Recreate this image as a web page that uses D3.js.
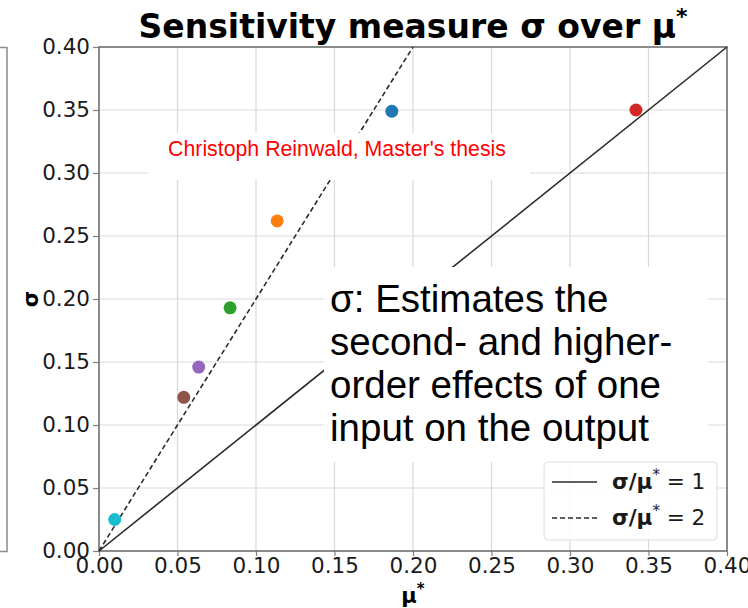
<!DOCTYPE html>
<html>
<head>
<meta charset="utf-8">
<script src="https://cdn.jsdelivr.net/npm/d3@7"></script>
<style>
  html, body { margin: 0; padding: 0; background: #fff; }
  svg { display: block; }
</style>
</head>
<body>
<svg id="chart" width="748" height="608"></svg>
<script>
// Morris screening results: mean of absolute elementary effects (mu*) vs. their spread (sigma)
const muStar = [0.010, 0.054, 0.0635, 0.0835, 0.1135, 0.1865, 0.342];
const sigma  = [0.025, 0.122, 0.146, 0.193, 0.262, 0.349, 0.350];
const pointColors = ["#17becf", "#8c564b", "#9467bd", "#2ca02c", "#ff7f0e", "#1f77b4", "#d62728"];

// Reference ratio lines sigma/mu* = k
const ratios = [1, 2];
const ratioDash = [null, "5,3"];

const xTicks = [0, 0.05, 0.10, 0.15, 0.20, 0.25, 0.30, 0.35, 0.40];
const yTicks = [0, 0.05, 0.10, 0.15, 0.20, 0.25, 0.30, 0.35, 0.40];

const noteLines = ["σ: Estimates the", "second- and higher-", "order effects of one", "input on the output"];
const creditText = "Christoph Reinwald, Master's thesis";

const svg = d3.select("#chart");
const W = 748, H = 608;
const m = { left: 99, right: W - 727, top: 47, bottom: H - 551 };

const x = d3.scaleLinear().domain([0, 0.40]).range([m.left, W - m.right]);
const y = d3.scaleLinear().domain([0, 0.40]).range([H - m.bottom, m.top]);

const tickFont = "'DejaVu Sans', sans-serif";

// Edge of the neighbouring panel on the left
svg.append("rect")
  .attr("x", -10).attr("y", 47.5).attr("width", 17).attr("height", 504)
  .attr("fill", "none").attr("stroke", "#8a8a8a").attr("stroke-width", 1.5);

// Grid
const grid = svg.append("g");
grid.selectAll(".gx").data(xTicks.slice(1, -1)).join("line")
  .attr("x1", d => x(d)).attr("x2", d => x(d))
  .attr("y1", y(0)).attr("y2", y(0.40))
  .attr("stroke", "#d9d9d9").attr("stroke-width", 1.2);
grid.selectAll(".gy").data(yTicks.slice(1, -1)).join("line")
  .attr("y1", d => y(d)).attr("y2", d => y(d))
  .attr("x1", x(0)).attr("x2", x(0.40))
  .attr("stroke", "#d9d9d9").attr("stroke-width", 1.2);

// Axes
const xAxis = d3.axisBottom(x).tickValues(xTicks).tickFormat(d3.format(".2f")).tickSize(5).tickPadding(2);
const yAxis = d3.axisLeft(y).tickValues(yTicks).tickFormat(d3.format(".2f")).tickSize(6).tickPadding(3);

const gx = svg.append("g").attr("transform", `translate(0,${y(0)})`).call(xAxis);
const gy = svg.append("g").attr("transform", `translate(${x(0)},0)`).call(yAxis);
[gx, gy].forEach(g => {
  g.select(".domain").remove();
  g.selectAll(".tick line").attr("stroke", "#808080").attr("stroke-width", 1.2);
  g.selectAll(".tick text").attr("font-family", tickFont).attr("font-size", 21.5).attr("fill", "#1a1a1a");
});

// Plot frame
svg.append("rect")
  .attr("x", x(0)).attr("y", y(0.40))
  .attr("width", x(0.40) - x(0)).attr("height", y(0) - y(0.40))
  .attr("fill", "none").attr("stroke", "#6e6e6e").attr("stroke-width", 1.6);

// Ratio lines
const plot = svg.append("g");
ratios.forEach((k, i) => {
  const xEnd = Math.min(0.40, 0.40 / k);
  plot.append("line")
    .attr("x1", x(0)).attr("y1", y(0))
    .attr("x2", x(xEnd)).attr("y2", y(xEnd * k))
    .attr("stroke", "#2b2b2b").attr("stroke-width", 1.6)
    .attr("stroke-dasharray", ratioDash[i]);
});

// Points
plot.selectAll("circle").data(muStar).join("circle")
  .attr("cx", d => x(d)).attr("cy", (d, i) => y(sigma[i]))
  .attr("r", 6.5)
  .attr("fill", (d, i) => pointColors[i]);

// Title
const title = svg.append("text")
  .attr("x", (x(0) + x(0.40)) / 2).attr("y", 38)
  .attr("text-anchor", "middle")
  .attr("font-family", tickFont).attr("font-weight", "bold").attr("font-size", 33)
  .attr("fill", "#000");
title.append("tspan").text("Sensitivity measure σ over μ");
title.append("tspan").attr("dy", -14).attr("font-size", 22).text("*");

// Axis labels
svg.append("text")
  .attr("transform", `translate(38,${(y(0) + y(0.40)) / 2}) rotate(-90)`)
  .attr("text-anchor", "middle")
  .attr("font-family", tickFont).attr("font-weight", "bold").attr("font-size", 21)
  .text("σ");
const xl = svg.append("text")
  .attr("x", (x(0) + x(0.40)) / 2).attr("y", 603)
  .attr("text-anchor", "middle")
  .attr("font-family", tickFont).attr("font-weight", "bold").attr("font-size", 21);
xl.append("tspan").text("μ");
xl.append("tspan").attr("dy", -9).attr("font-size", 15).text("*");

// Note box
svg.append("rect")
  .attr("x", 324).attr("y", 267).attr("width", 384).attr("height", 195)
  .attr("fill", "#fff");
svg.append("text")
  .attr("font-family", "'Liberation Sans', Arial, sans-serif").attr("font-size", 38.5)
  .attr("fill", "#000")
  .selectAll("tspan").data(noteLines).join("tspan")
  .attr("x", 330).attr("y", (d, i) => 312 + i * 43)
  .text(d => d);

// Legend
const lg = svg.append("g");
lg.append("rect")
  .attr("x", 544).attr("y", 462).attr("width", 173).attr("height", 78)
  .attr("rx", 4).attr("fill", "rgba(255,255,255,0.85)")
  .attr("stroke", "#dcdcdc").attr("stroke-width", 1);
ratios.forEach((k, i) => {
  const ly = 482 + i * 36;
  lg.append("line")
    .attr("x1", 552).attr("x2", 597).attr("y1", ly).attr("y2", ly)
    .attr("stroke", "#2b2b2b").attr("stroke-width", 1.6)
    .attr("stroke-dasharray", ratioDash[i]);
  const t = lg.append("text").attr("x", 612).attr("y", ly + 7)
    .attr("font-family", tickFont).attr("font-size", 21.5).attr("fill", "#1a1a1a");
  t.append("tspan").attr("font-weight", "bold").text("σ/μ");
  t.append("tspan").attr("dy", -9).attr("font-size", 15).text("*");
  t.append("tspan").attr("dy", 9).text(" = " + k);
});

// Credit banner
svg.append("rect")
  .attr("x", 148).attr("y", 133).attr("width", 382).attr("height", 47)
  .attr("fill", "#fff");
svg.append("text")
  .attr("x", 337).attr("y", 156)
  .attr("text-anchor", "middle")
  .attr("font-family", "'Liberation Sans', Arial, sans-serif").attr("font-size", 21.3)
  .attr("fill", "#ff0000")
  .text(creditText);
</script>
</body>
</html>
